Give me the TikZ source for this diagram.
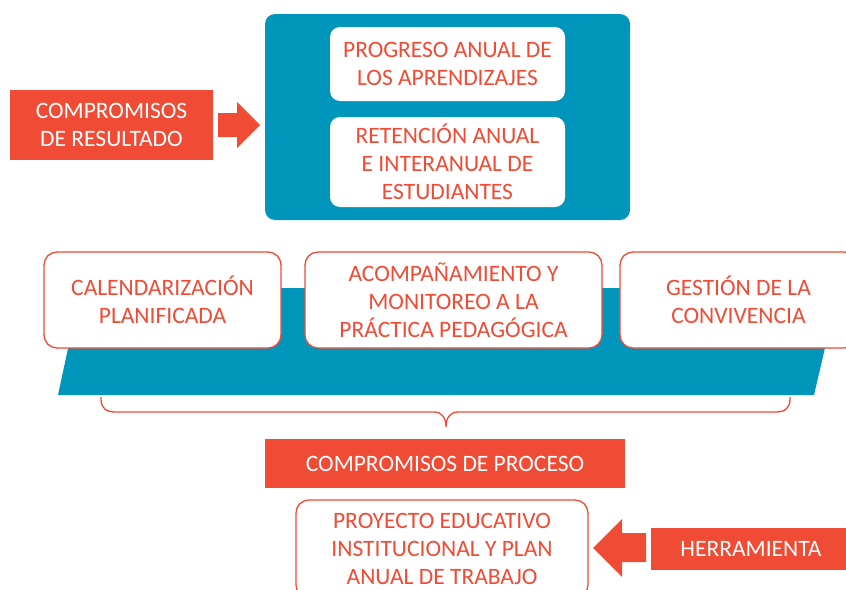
\documentclass[tikz,border=0pt]{standalone}
\usepackage{fontspec}
\setmainfont{Carlito}
\usepackage{xcolor}
\usepackage{tikz}
\usetikzlibrary{arrows,shapes,backgrounds}
\definecolor{rojo}{RGB}{239,75,53}
\definecolor{azul}{RGB}{0,150,188}

\begin{document}
\begin{tikzpicture}[x=1pt, y=-1pt,
	every node/.style={inner sep=0pt, align=center, font=\fontsize{23.5}{28}\selectfont}]

	\tikzstyle{rojobox}=[fill=rojo, text=white]
	\tikzstyle{blanco}=[fill=white, text=rojo, rounded corners=10pt]
	\tikzstyle{marco}=[draw=rojo, line width=1.3pt, fill=white, text=rojo, rounded corners=13pt]
	%\tikzstyle{flecha}=[fill=rojo]

	\useasboundingbox (0,0) rectangle (846,589);

	% Resultado
	\node[rojobox, minimum width=203pt, minimum height=70pt] (res) at (111.5,125) {COMPROMISOS\\DE RESULTADO};
	\node[fill=azul, rounded corners=10pt, minimum width=365pt, minimum height=206pt] (caja) at (447.5,117) {};
	\node[blanco, minimum width=235pt, minimum height=74pt] (prog) at (447.5,64) {PROGRESO ANUAL DE\\LOS APRENDIZAJES};
	\node[blanco, minimum width=235pt, minimum height=90pt] (ret) at (447.5,162) {RETENCIÓN ANUAL\\E INTERANUAL DE\\ESTUDIANTES};
	\fill[rojo] (218,113) -- (237,113) -- (237,102) -- (260,125) -- (237,148) -- (237,137) -- (218,137) -- cycle;

	% Proceso
	\fill[azul] (58,395) -- (814,395) -- (839,288) -- (81,288) -- cycle;
	\node[marco, minimum width=237pt, minimum height=96pt] (cal) at (162.5,300) {CALENDARIZACIÓN\\PLANIFICADA};
	\node[marco, minimum width=297pt, minimum height=96pt] (acom) at (453.5,300) {ACOMPAÑAMIENTO Y\\MONITOREO A LA\\PRÁCTICA PEDAGÓGICA};
	\node[marco, minimum width=237pt, minimum height=96pt] (ges) at (738.5,300) {GESTIÓN DE LA\\CONVIVENCIA};

	% llave
	\draw[rojo, line width=1.3pt] (101,397) -- (101,399) .. controls (101,408) and (106,412) .. (115,412)
		-- (434,412) .. controls (442,412) and (446,418) .. (446,427)
		.. controls (446,418) and (450,412) .. (458,412)
		-- (776,412) .. controls (785,412) and (790,408) .. (790,399) -- (790,397);

	\node[rojobox, minimum width=360pt, minimum height=49pt] (pro) at (445,463.5) {COMPROMISOS DE PROCESO};

	% Herramienta
	\node[marco, minimum width=292pt, minimum height=98pt] (pei) at (442,549) {PROYECTO EDUCATIVO\\INSTITUCIONAL Y PLAN\\ANUAL DE TRABAJO};
	\node[rojobox, minimum width=200pt, minimum height=42pt] (her) at (751,549) {HERRAMIENTA};
	\fill[rojo] (646,533) -- (622,533) -- (622,519) -- (593,548) -- (622,577) -- (622,562) -- (646,562) -- cycle;

\end{tikzpicture}
\end{document}
